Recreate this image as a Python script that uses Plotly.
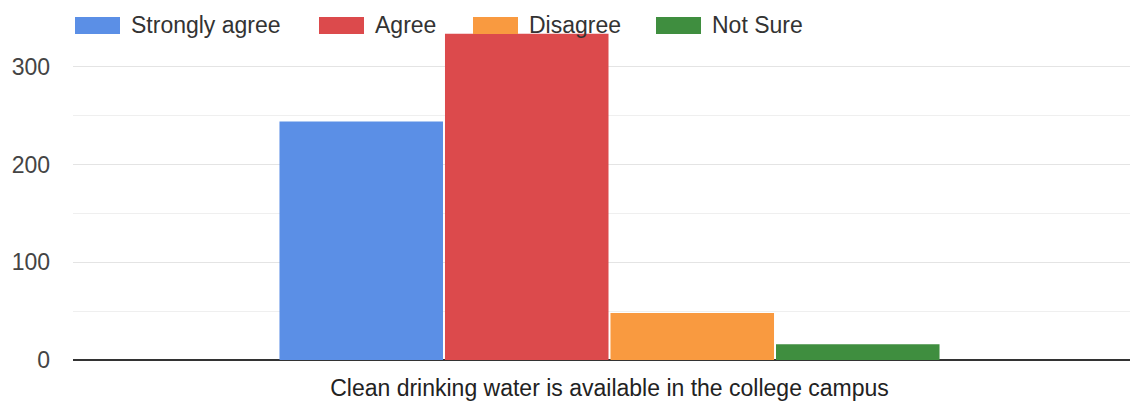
import plotly.graph_objects as go

category = ["Clean drinking water is available in the college campus"]
series_names = ["Strongly agree", "Agree", "Disagree", "Not Sure"]
series_values = [[244], [334], [48], [16]]
colors = ["#5b8fe6", "#dc4a4c", "#f99a40", "#3f8e3f"]
y_ticks = [0, 100, 200, 300]

# page body adds an 8px offset; plot area runs slightly past the right edge like the reference
W, H = 1138, 398
ML, MR, MT, MB = 65, 0, 10, 46
font_family = "Arial, Liberation Sans, sans-serif"

fig = go.Figure()
for name, vals, col in zip(series_names, series_values, colors):
    fig.add_trace(go.Bar(x=category, y=vals, name=name, marker=dict(color=col, line=dict(width=0)),
                         showlegend=False))

# custom legend (large swatches like the reference)
legend_x = [67, 311, 465, 648]
plot_w = W - ML - MR
plot_h = H - MT - MB
for lx, name, col in zip(legend_x, series_names, colors):
    x0 = (lx - ML) / plot_w
    x1 = (lx + 45 - ML) / plot_w
    y0 = 1 + (MT - 26) / plot_h
    y1 = 1 + (MT - 9) / plot_h
    fig.add_shape(type="rect", xref="paper", yref="paper", x0=x0, x1=x1, y0=y0, y1=y1,
                  fillcolor=col, line=dict(width=0), layer="above")
    fig.add_annotation(xref="paper", yref="paper", x=(lx + 54 - ML) / plot_w, y=1 + (MT - 17) / plot_h,
                       text=name, showarrow=False, xanchor="left", yanchor="middle",
                       font=dict(size=23, color="#333333", family=font_family))

fig.update_layout(
    width=W, height=H,
    margin=dict(l=ML, r=MR, t=MT, b=MB, autoexpand=False),
    paper_bgcolor="white", plot_bgcolor="white",
    barmode="group", bargap=0.383, bargroupgap=0.012,
    font=dict(family=font_family, size=23, color="#333333"),
    xaxis=dict(showgrid=False, showline=False, ticks="", automargin=False, ticklabelstandoff=12,
               tickfont=dict(size=23, color="#222222")),
    yaxis=dict(range=[0, 350], tickvals=y_ticks, showgrid=True, gridcolor="#e4e4e4", gridwidth=1,
               minor=dict(dtick=50, showgrid=True, gridcolor="#efefef"),
               zeroline=True, zerolinecolor="#333333", zerolinewidth=2, automargin=False,
               ticks="", ticklabelstandoff=22, tickfont=dict(size=23, color="#444444")),
)

fig.write_html("out.html")
